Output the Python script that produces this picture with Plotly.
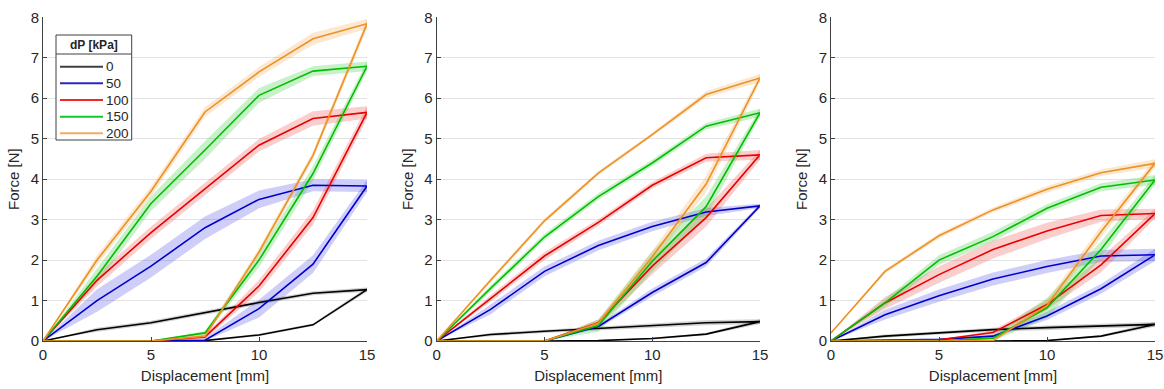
import plotly.graph_objects as go

# ---------------- data ----------------
x_load = [0, 2.5, 5, 7.5, 10, 12.5, 15]
x_unload = [15, 12.5, 10, 7.5, 5, 2.5, 0]
pressures = ["0", "50", "100", "150", "200"]
legend_title = "dP [kPa]"

# Panel 1
p1_load = {
    "0":   [0, 0.28, 0.45, 0.70, 0.95, 1.18, 1.27],
    "50":  [0, 1.00, 1.85, 2.80, 3.50, 3.85, 3.83],
    "100": [0, 1.50, 2.68, 3.75, 4.84, 5.50, 5.65],
    "150": [0, 1.60, 3.40, 4.72, 6.07, 6.67, 6.79],
    "200": [0, 2.00, 3.70, 5.66, 6.65, 7.47, 7.84],
}
p1_unload = {
    "0":   [1.27, 0.40, 0.15, 0.01, 0, 0, 0],
    "50":  [3.83, 1.90, 0.80, 0.02, 0, 0, 0],
    "100": [5.65, 3.05, 1.36, 0.10, 0, 0, 0],
    "150": [6.79, 4.14, 2.00, 0.20, 0, 0, 0],
    "200": [7.84, 4.59, 2.20, 0.12, 0, 0, 0],
}
p1_load_sd = {
    "0":   [0, 0.05, 0.05, 0.05, 0.05, 0.05, 0.05],
    "50":  [0, 0.28, 0.28, 0.28, 0.22, 0.15, 0.15],
    "100": [0, 0.15, 0.15, 0.15, 0.15, 0.18, 0.15],
    "150": [0, 0.18, 0.18, 0.22, 0.18, 0.12, 0.12],
    "200": [0, 0.12, 0.12, 0.12, 0.12, 0.15, 0.12],
}
p1_unload_sd = {
    "0":   [0.05, 0.03, 0.03, 0.02, 0, 0, 0],
    "50":  [0.15, 0.22, 0.22, 0.05, 0, 0, 0],
    "100": [0.15, 0.18, 0.15, 0.05, 0, 0, 0],
    "150": [0.12, 0.18, 0.18, 0.05, 0, 0, 0],
    "200": [0.12, 0.10, 0.10, 0.05, 0, 0, 0],
}

# Panel 2
p2_load = {
    "0":   [0, 0.16, 0.24, 0.31, 0.38, 0.45, 0.48],
    "50":  [0, 0.78, 1.72, 2.36, 2.83, 3.19, 3.34],
    "100": [0, 1.05, 2.10, 2.93, 3.85, 4.53, 4.60],
    "150": [0, 1.30, 2.57, 3.57, 4.40, 5.31, 5.64],
    "200": [0, 1.50, 2.97, 4.15, 5.10, 6.09, 6.50],
}
p2_unload = {
    "0":   [0.48, 0.17, 0.06, 0.01, 0, 0, 0],
    "50":  [3.34, 1.94, 1.20, 0.36, 0, 0, 0],
    "100": [4.60, 3.05, 1.85, 0.45, 0, 0, 0],
    "150": [5.64, 3.32, 1.97, 0.38, 0, 0, 0],
    "200": [6.50, 3.88, 2.08, 0.44, 0, 0, 0],
}
p2_load_sd = {
    "0":   [0, 0.04, 0.04, 0.05, 0.05, 0.06, 0.06],
    "50":  [0, 0.12, 0.12, 0.12, 0.12, 0.10, 0.05],
    "100": [0, 0.08, 0.10, 0.08, 0.08, 0.10, 0.12],
    "150": [0, 0.08, 0.08, 0.08, 0.08, 0.08, 0.10],
    "200": [0, 0.06, 0.06, 0.05, 0.05, 0.08, 0.10],
}
p2_unload_sd = {
    "0":   [0.06, 0.03, 0.02, 0.01, 0, 0, 0],
    "50":  [0.05, 0.10, 0.10, 0.05, 0, 0, 0],
    "100": [0.12, 0.22, 0.20, 0.08, 0, 0, 0],
    "150": [0.10, 0.25, 0.25, 0.15, 0, 0, 0],
    "200": [0.10, 0.20, 0.15, 0.08, 0, 0, 0],
}

# Panel 3
p3_load = {
    "0":   [0, 0.12, 0.20, 0.28, 0.33, 0.37, 0.41],
    "50":  [0, 0.65, 1.12, 1.53, 1.84, 2.10, 2.13],
    "100": [0, 0.94, 1.64, 2.26, 2.72, 3.10, 3.15],
    "150": [0, 0.94, 2.00, 2.58, 3.28, 3.80, 3.98],
    "200": [0.20, 1.72, 2.60, 3.24, 3.75, 4.16, 4.39],
}
p3_unload = {
    "0":   [0.41, 0.12, 0.01, 0, 0, 0, 0],
    "50":  [2.13, 1.29, 0.62, 0.12, 0.04, 0.02, 0],
    "100": [3.15, 1.88, 0.90, 0.21, 0.03, 0.01, 0],
    "150": [3.98, 2.26, 0.82, 0.07, 0, 0, 0],
    "200": [4.39, 2.70, 0.88, 0.01, 0, 0, 0],
}
p3_load_sd = {
    "0":   [0, 0.04, 0.04, 0.05, 0.05, 0.06, 0.06],
    "50":  [0, 0.12, 0.15, 0.16, 0.16, 0.15, 0.15],
    "100": [0, 0.15, 0.20, 0.22, 0.20, 0.15, 0.12],
    "150": [0, 0.10, 0.12, 0.12, 0.10, 0.10, 0.12],
    "200": [0, 0.05, 0.06, 0.06, 0.08, 0.08, 0.10],
}
p3_unload_sd = {
    "0":   [0.06, 0.03, 0.01, 0, 0, 0, 0],
    "50":  [0.15, 0.12, 0.10, 0.04, 0, 0, 0],
    "100": [0.12, 0.18, 0.12, 0.05, 0, 0, 0],
    "150": [0.12, 0.20, 0.25, 0.08, 0, 0, 0],
    "200": [0.10, 0.15, 0.12, 0.03, 0, 0, 0],
}

panels = [
    (p1_load, p1_unload, p1_load_sd, p1_unload_sd),
    (p2_load, p2_unload, p2_load_sd, p2_unload_sd),
    (p3_load, p3_unload, p3_load_sd, p3_unload_sd),
]

line_colors = {
    "0": "rgb(0,0,0)",
    "50": "rgb(0,0,205)",
    "100": "rgb(235,0,0)",
    "150": "rgb(0,190,0)",
    "200": "rgb(237,145,33)",
}
legend_colors = {
    "0": "rgb(64,64,64)",
    "50": "rgb(40,40,190)",
    "100": "rgb(240,40,40)",
    "150": "rgb(20,200,40)",
    "200": "rgb(245,170,100)",
}
band_colors = {
    "0": "rgba(0,0,0,0.18)",
    "50": "rgba(60,60,230,0.25)",
    "100": "rgba(240,60,60,0.25)",
    "150": "rgba(40,200,40,0.25)",
    "200": "rgba(245,160,70,0.25)",
}

# ---------------- figure ----------------
W, H = 1164, 389
x_domains = [(43 / W, 367 / W), (436.7 / W, 760 / W), (831 / W, 1155 / W)]
y_domain = ((H - 341) / H, (H - 17.3) / H)

fig = go.Figure()
font_family = "Liberation Sans, Arial, sans-serif"
txt_color = "#262626"
fs = 15

for i, (ld, ul, lsd, usd) in enumerate(panels):
    xa = "x" if i == 0 else f"x{i+1}"
    ya = "y" if i == 0 else f"y{i+1}"
    for p in pressures:
        for xs, ys, sd in ((x_load, ld[p], lsd[p]), (x_unload, ul[p], usd[p])):
            up = [max(v + s, 0) for v, s in zip(ys, sd)]
            lo = [max(v - s, 0) for v, s in zip(ys, sd)]
            fig.add_trace(go.Scatter(
                x=list(xs) + list(xs)[::-1], y=up + lo[::-1],
                fill="toself", fillcolor=band_colors[p],
                line=dict(width=0), mode="lines", hoverinfo="skip",
                showlegend=False, xaxis=xa, yaxis=ya))
    for p in pressures:
        fig.add_trace(go.Scatter(
            x=list(x_load) + list(x_unload), y=ld[p] + ul[p],
            mode="lines", line=dict(color=line_colors[p], width=1.6),
            name=p, showlegend=False, xaxis=xa, yaxis=ya))

    axis_common = dict(
        showline=True, linecolor="#404040", linewidth=1,
        ticks="inside", ticklen=4, tickcolor="#404040",
        tickfont=dict(size=fs, color=txt_color, family=font_family),
        zeroline=False, mirror=False, automargin=False,
    )
    fig.layout[("xaxis" if i == 0 else f"xaxis{i+1}")] = dict(
        domain=list(x_domains[i]), range=[0, 15], dtick=5, tick0=0,
        showgrid=False, anchor=ya,
        title=dict(text="Displacement [mm]", standoff=8,
                   font=dict(size=fs, color=txt_color, family=font_family)),
        **axis_common)
    fig.layout[("yaxis" if i == 0 else f"yaxis{i+1}")] = dict(
        domain=list(y_domain), range=[0, 8], dtick=1, tick0=0,
        showgrid=True, gridcolor="#e3e3e3", gridwidth=1, anchor=xa,
        title=dict(text="Force [N]", standoff=7,
                   font=dict(size=fs, color=txt_color, family=font_family)),
        **axis_common)

fig.update_layout(
    width=W, height=H,
    margin=dict(l=0, r=0, t=0, b=0, autoexpand=False),
    paper_bgcolor="white", plot_bgcolor="white",
    font=dict(family=font_family, color=txt_color, size=fs),
    showlegend=False,
)

# ---------------- manual legend (panel 1) ----------------
def px(x):
    return x / W

def py(y):
    return 1 - y / H

lg_l, lg_r, lg_t, lg_b = 56, 131.7, 35, 140
fig.add_shape(type="rect", xref="paper", yref="paper",
              x0=px(lg_l), x1=px(lg_r), y0=py(lg_b), y1=py(lg_t),
              line=dict(color="#404040", width=1), fillcolor="white", layer="above")
fig.add_shape(type="line", xref="paper", yref="paper",
              x0=px(lg_l), x1=px(lg_r), y0=py(54), y1=py(54),
              line=dict(color="#404040", width=1), layer="above")
fig.add_annotation(xref="paper", yref="paper", x=px((lg_l + lg_r) / 2), y=py(45),
                   text="<b>" + legend_title + "</b>", showarrow=False,
                   xanchor="center", yanchor="middle",
                   font=dict(size=12, color=txt_color, family=font_family))
for k, p in enumerate(pressures):
    yy = 66.7 + k * 16.65
    fig.add_shape(type="line", xref="paper", yref="paper",
                  x0=px(60), x1=px(103), y0=py(yy), y1=py(yy),
                  line=dict(color=legend_colors[p], width=2), layer="above")
    fig.add_annotation(xref="paper", yref="paper", x=px(104), y=py(yy),
                       text=p, showarrow=False, xanchor="left", yanchor="middle",
                       font=dict(size=13.5, color=txt_color, family=font_family))

fig.write_html("out.html")
